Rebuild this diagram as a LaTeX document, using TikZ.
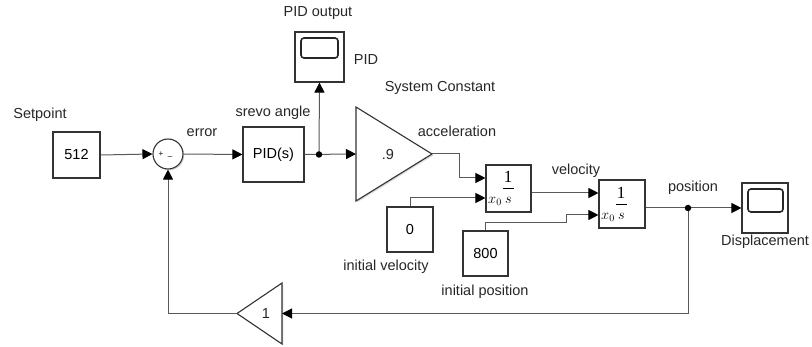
\documentclass[tikz,border=0pt]{standalone}
\usepackage{fontspec}
\setmainfont{Liberation Sans}
\newfontfamily\serifnum{Liberation Serif}
\usetikzlibrary{arrows.meta,shadows,calc}
\begin{document}
\begin{tikzpicture}[x=1pt,y=-1pt,
  font=\fontsize{14.5}{16}\selectfont,
  blk/.style={draw=black!80, line width=1.1pt, fill=white, inner sep=0pt,
    drop shadow={shadow xshift=1.3pt,shadow yshift=-1.3pt,fill=black!30}},
  wire/.style={draw=black!65, line width=1pt},
  sig/.style={wire, -{Triangle[length=10pt,width=10pt,color=black]}},
  lbl/.style={inner sep=0pt, text=black!85},
  junc/.style={circle, fill=black, inner sep=0pt, minimum size=6.5pt},
  screen/.style={draw=black!85, line width=1.6pt, rounded corners=3pt},
  small/.style={inner sep=0pt, font=\fontsize{8}{8}\selectfont},
  num/.style={inner sep=0pt, font=\serifnum\fontsize{17}{17}\selectfont},
  den/.style={inner sep=0pt, font=\fontsize{14}{14}\selectfont}
]
\useasboundingbox (0,0) rectangle (812,347);

% ---- blocks ----
\node[blk, minimum width=47pt, minimum height=46pt] (sp) at (76.5,155) {512};
\node[blk, circle, minimum size=30pt] (sum) at (168,154) {};
\node[small] (plus) at (161,154) {+};
\node[small] (minus) at (170,156) {\_};
\node[blk, minimum width=61pt, minimum height=55pt] (pid) at (273.5,154.5) {PID(s)};

% scope for the controller output
\node[blk, minimum width=49pt, minimum height=50pt] (sc1) at (319.5,57) {};
\draw[screen] (301,38) rectangle (338,58);

% system constant gain
\draw[blk] (356,107) -- (432,154) -- (356,201) -- cycle;
\node[lbl] (gk) at (388,155) {.9};
\coordinate (gin) at (356,154);
\coordinate (gout) at (432,154);

% first integrator
\node[blk, minimum width=45pt, minimum height=47pt] (int1) at (508.5,188.5) {};
\node[num] (n1) at (508,177) {1};
\draw[line width=0.9pt] (503,188.5) -- (513.5,188.5);
\node[den] (d1) at (508.5,200.5) {$s$};
\node[den] (x1) at (495,201.5) {$x_0$};
\coordinate (int1a) at ($(int1.west)+(0,-10.5)$);
\coordinate (int1b) at ($(int1.west)+(0,9.5)$);
\coordinate (int1o) at ($(int1.east)+(0,4.5)$);

% second integrator
\node[blk, minimum width=46pt, minimum height=48pt] (int2) at (622,204) {};
\node[num] (n2) at (621,192.5) {1};
\draw[line width=0.9pt] (616,204) -- (626.5,204);
\node[den] (d2) at (621.5,216) {$s$};
\node[den] (x2) at (608,217) {$x_0$};
\coordinate (int2a) at ($(int2.west)+(0,-11)$);
\coordinate (int2b) at ($(int2.west)+(0,11)$);
\coordinate (int2o) at ($(int2.east)+(0,4)$);

% initial conditions
\node[blk, minimum width=46pt, minimum height=45pt] (ic1) at (410,229.5) {0};
\node[blk, minimum width=45pt, minimum height=45pt] (ic2) at (485.5,253.5) {800};

% displacement scope
\node[blk, minimum width=46pt, minimum height=50pt] (sc2) at (765,208) {};
\draw[screen] (748,189) rectangle (783,212);

% feedback gain
\draw[blk] (282,283) -- (282,344) -- (237,313.5) -- cycle;
\node[lbl] (fk) at (266,313.5) {1};
\coordinate (fin) at (282,313.5);
\coordinate (fout) at (237,313.5);

% junction points
\coordinate (j1) at (319,154.5);
\coordinate (j2) at (688,208);

% ---- signal lines ----
\draw[sig] (sp.east) -- (sum.west);
\draw[sig] (sum.east) -- (pid.west);
\draw[sig] (pid.east) -- (gin);
\draw[sig] (j1) -- (sc1.south);
\draw[sig] (gout) -- ++(27,0) |- (int1a);
\draw[sig] (ic1.north) |- (int1b);
\draw[sig] (int1o) -- (int2a);
\draw[sig] (ic2.north) -- ++(0,-8) -| ($(int2b)+(-32,0)$) -- (int2b);
\draw[sig] (int2o) -- (sc2.west);
\draw[sig] (j2) |- (fin);
\draw[sig] (fout) -| (sum.south);

\node[junc] (dot1) at (j1) {};
\node[junc] (dot2) at (j2) {};

% ---- labels ----
\node[lbl] (lsp) at (40,115) {Setpoint};
\node[lbl] (lerr) at (202,133) {error};
\node[lbl] (lang) at (273,113) {srevo angle};
\node[lbl] (lpo) at (318,13) {PID output};
\node[lbl] (lpid) at (366,60) {PID};
\node[lbl] (lsc) at (440,88) {System Constant};
\node[lbl] (lacc) at (457,131) {acceleration};
\node[lbl] (lvel) at (576,171) {velocity};
\node[lbl] (lpos) at (693,188) {position};
\node[lbl] (ldis) at (765,242) {Displacement};
\node[lbl] (liv) at (386,267) {initial velocity};
\node[lbl] (lip) at (485,292) {initial position};
\end{tikzpicture}
\end{document}
